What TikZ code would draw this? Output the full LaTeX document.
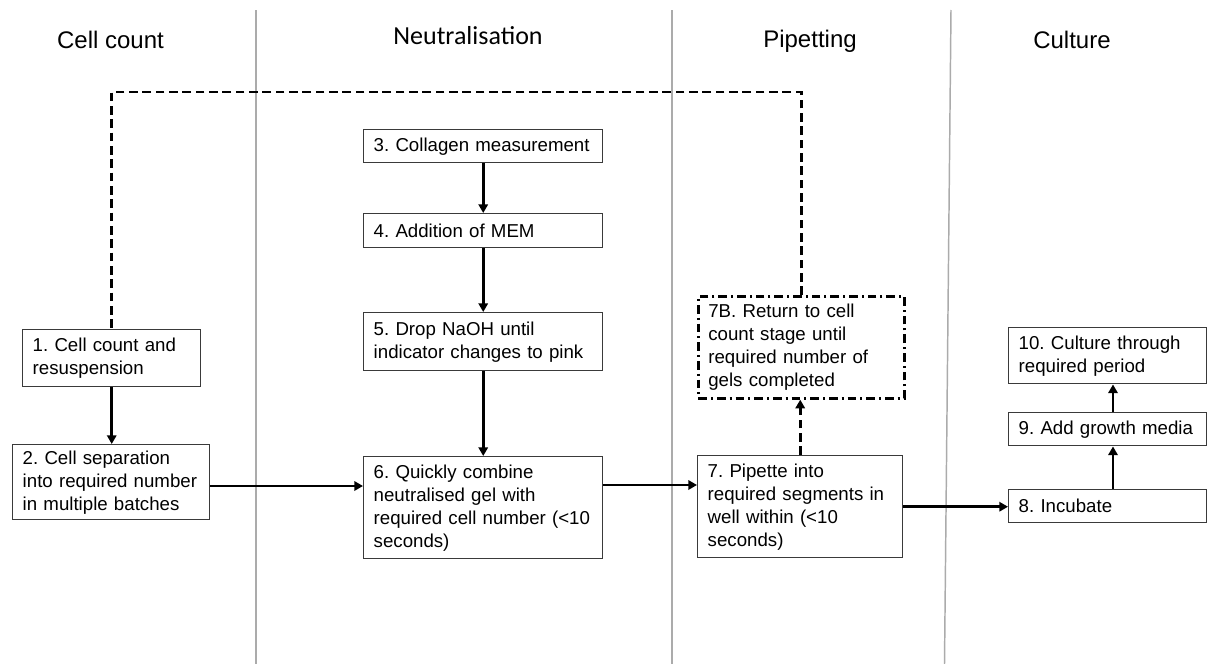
\documentclass[tikz,border=0pt]{standalone}
\usepackage{fontspec}
\setmainfont{Liberation Sans}
\newfontfamily\calib{Carlito}
\usetikzlibrary{arrows.meta}
\frenchspacing
\definecolor{boxc}{HTML}{3A3A3A}
\definecolor{sepc}{HTML}{ABABAB}
\tikzset{
  box/.style={draw=boxc, line width=1.1pt, anchor=north west, align=left,
    inner xsep=7.5pt, inner ysep=2pt, font=\fontsize{14}{17.25}\selectfont},
  dotbox/.style={box, draw=black, line width=2pt, dash pattern=on 6.5pt off 3pt on 1.5pt off 3pt},
  arr/.style={line width=2.1pt, -{Triangle[length=6.5pt,width=7pt]}},
  dashline/.style={line width=2.1pt, dash pattern=on 6.5pt off 3.5pt},
  dasharr/.style={dashline, -{Triangle[length=6.5pt,width=7pt]}},
  sepline/.style={draw=sepc, line width=1.1pt},
  head/.style={anchor=base, font=\fontsize{18}{20}\selectfont}
}
\begin{document}
\begin{tikzpicture}[x=0.75pt, y=-0.75pt]
\useasboundingbox (0,0) rectangle (1208,664);
% separators
\draw[sepline] (256,10) -- (256,664);
\draw[sepline] (672,10) -- (672,664);
\draw[sepline] (951,10) -- (944.5,664);
% headers
\node[head] (hc) at (110.5,48) {Cell count};
\node[head, font=\calib\fontsize{19.5}{22}\selectfont] (hn) at (468,44.5) {Neutralisation};
\node[head] (hp) at (810,47) {Pipetting};
\node[head] (hu) at (1072,48) {Culture};
% boxes
\node[box, minimum width=133.5pt, minimum height=42.75pt, text width=118.5pt] (b1) at (22,329) {1. Cell count and\\resuspension};
\node[box, minimum width=147.75pt, minimum height=56.25pt, text width=132.75pt] (b2) at (12,444) {2. Cell separation\\into required number\\in multiple batches};
\node[box, minimum width=179.25pt, minimum height=24.75pt, text width=164.25pt] (b3) at (363,129) {3. Collagen measurement};
\node[box, minimum width=179.25pt, minimum height=25.5pt, text width=164.25pt] (b4) at (363,213) {4. Addition of MEM};
\node[box, minimum width=179.25pt, minimum height=43.5pt, text width=164.25pt] (b5) at (363,312) {5. Drop NaOH until\\indicator changes to pink};
\node[box, minimum width=179.25pt, minimum height=76.5pt, text width=164.25pt] (b6) at (363,456) {6. Quickly combine\\neutralised gel with\\required cell number (<10\\seconds)};
\node[box, minimum width=153.75pt, minimum height=76.5pt, text width=138.75pt] (b7) at (697,455) {7. Pipette into\\required segments in\\well within (<10\\seconds)};
\node[dotbox, minimum width=154.5pt, minimum height=76.5pt, text width=139.5pt] (b7b) at (697,295) {7B. Return to cell\\count stage until\\required number of\\gels completed};
\node[box, minimum width=148.5pt, minimum height=24.75pt, text width=133.5pt] (b8) at (1008,489) {8. Incubate};
\node[box, minimum width=148.5pt, minimum height=24.75pt, text width=133.5pt] (b9) at (1008,412) {9. Add growth media};
\node[box, minimum width=148.5pt, minimum height=42pt, text width=133.5pt] (b10) at (1008,327) {10. Culture through\\required period};
% helper coordinates
\coordinate (ytop) at (0,92);
\coordinate (y26) at (0,486);
\coordinate (y67) at (0,485);
\coordinate (xcul) at (1113,0);
% connectors
\draw[arr] (b1.south) -- (b2.north -| b1.south);
\draw[arr] (b3.south) -- (b4.north);
\draw[arr] (b4.south) -- (b5.north);
\draw[arr] (b5.south) -- (b6.north);
\draw[arr] (b2.east |- y26) -- (b6.west |- y26);
\draw[arr] (b6.east |- y67) -- (b7.west |- y67);
\draw[arr] (b7.east) -- (b8.west |- b7.east);
\draw[arr] (b8.north -| xcul) -- (b9.south -| xcul);
\draw[arr] (b9.north -| xcul) -- (b10.south -| xcul);
\draw[dasharr] (b7.north) -- (b7b.south -| b7.north);
\draw[dashline] (b7b.north) -- (b7b.north |- ytop) -| (b1.north);
\end{tikzpicture}
\end{document}
